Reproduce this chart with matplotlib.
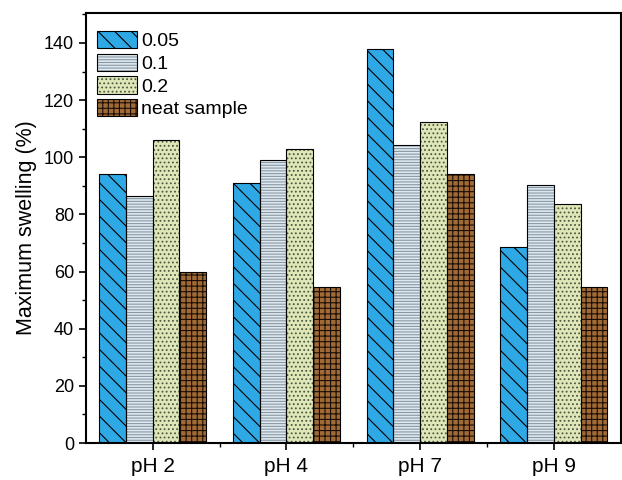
import numpy as np
import matplotlib.pyplot as plt
from matplotlib.patches import Patch
from matplotlib.ticker import MultipleLocator, FixedLocator

plt.rcParams['font.family'] = ['Liberation Sans', 'DejaVu Sans']
plt.rcParams['hatch.linewidth'] = 0.8

# Maximum swelling (%) per pH, for each concentration
ph_labels = ['pH 2', 'pH 4', 'pH 7', 'pH 9']
series_names = ['0.05', '0.1', '0.2', 'neat sample']
swell_005 = [94.0, 91.0, 138.0, 68.5]
swell_01 = [86.3, 99.2, 104.3, 90.3]
swell_02 = [106.0, 102.8, 112.5, 83.5]
swell_neat = [60.0, 54.5, 94.3, 54.5]

# fill colour, hatch colour, hatch pattern
styles = [
    ('#2fa8e6', 'black', '\\\\'),
    ('#dde8f0', '#8a98a4', '------'),
    ('#dfe6b8', '#4a5a40', '....'),
    ('#a06a36', '#1a0d05', '+++'),
]

fig = plt.figure(figsize=(6.22, 4.8), dpi=100)
ax = fig.add_axes([0.138, 0.077, 0.86, 0.896])

x = np.arange(len(ph_labels))
width = 0.2
offsets = [-0.3, -0.1, 0.1, 0.3]
all_series = [swell_005, swell_01, swell_02, swell_neat]

handles = []
for vals, off, (fc, hc, hatch), name in zip(all_series, offsets, styles, series_names):
    # hatched fill first, then a plain black outline on top
    ax.bar(x + off, vals, width, color=fc, edgecolor=hc, hatch=hatch, linewidth=0, zorder=2)
    ax.bar(x + off, vals, width, facecolor='none', edgecolor='black', linewidth=0.8, zorder=3)
    handles.append(Patch(facecolor=fc, edgecolor=hc, hatch=hatch, linewidth=0))

# outline the legend swatches too
leg_handles = [(h, Patch(facecolor='none', edgecolor='black', linewidth=0.8)) for h in handles]
ax.legend(leg_handles, series_names, loc='upper left', frameon=False, fontsize=14,
          handlelength=2.1, handleheight=1.0, labelspacing=0.17, handletextpad=0.2,
          borderaxespad=0.0, borderpad=0.0, bbox_to_anchor=(0.02, 0.958))

ax.set_xlim(-0.5, 3.5)
ax.set_ylim(0, 150.5)
ax.set_xticks(x)
ax.set_xticklabels(ph_labels)
ax.xaxis.set_minor_locator(FixedLocator([0.5, 1.5, 2.5]))
ax.yaxis.set_major_locator(MultipleLocator(20))
ax.yaxis.set_minor_locator(MultipleLocator(10))
ax.tick_params(axis='both', which='major', direction='out', length=5, width=1.2, labelsize=13)
ax.tick_params(axis='x', which='major', labelsize=15, pad=5)
ax.tick_params(axis='both', which='minor', direction='out', length=3, width=1.0)
ax.set_ylabel('Maximum swelling (%)', fontsize=15.5, labelpad=5)

for side in ['left', 'bottom', 'top', 'right']:
    ax.spines[side].set_linewidth(1.5)

fig.savefig('out.png', dpi=100)
